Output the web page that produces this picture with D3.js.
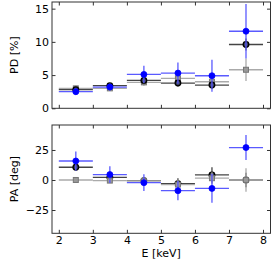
<!DOCTYPE html>
<html>
<head>
<meta charset="utf-8">
<script src="https://cdn.jsdelivr.net/npm/d3@7"></script>
<style>
  body { margin: 0; background: #fff; }
  svg text { font-family: "DejaVu Sans", sans-serif; font-size: 11px; fill: #000; }
</style>
</head>
<body>
<svg></svg>
<script>
// energy bins (keV), centre and half width
let energy = [2.5, 3.5, 4.5, 5.5, 6.5, 7.5];
let halfBin = 0.5;

// polarisation degree [%]
let pdBlue = [2.5, 3.2, 5.1, 5.3, 4.9, 11.6];
let pdBlueErr = [0.5, 0.5, 1.3, 1.6, 2.4, 4.1];
let pdBlack = [2.8, 3.4, 4.2, 3.8, 3.5, 9.6];
let pdBlackErr = [0.3, 0.3, 0.4, 0.5, 0.6, 0.9];
let pdGray = [3.0, 3.0, 3.9, 4.5, 4.0, 5.8];
let pdGrayErr = [0.4, 0.4, 0.5, 0.7, 0.8, 1.7];

// polarisation angle [deg]
let paBlue = [15.8, 4.5, -2.2, -8.9, -7, 27];
let paBlueErr = [8, 7, 7, 8, 12, 10.4];
let paBlack = [10.6, 2.2, -0.5, -3.0, 4.2, 0];
let paBlackErr = [3, 3, 3, 4.5, 6.4, 6];
let paGray = [0, -0.5, -0.8, -3.8, 1.5, 0];
let paGrayErr = [2, 2, 3, 4, 5, 9.7];

let xTicks = [2, 3, 4, 5, 6, 7, 8];
let pdTicks = [0, 5, 10, 15];
let paTicks = [-25, 0, 25];

let width = 280;
let height = 261;
let left = 52, right = 270.5;

let svg = d3.select('svg').attr('width', width).attr('height', height);

let xScale = d3.scaleLinear().domain([1.8, 8.22]).range([left, right]);

// draw one panel: frame, ticks, label and the three series
let drawPanel = (top, bottom, yDomain, yTicks, label, series, showX) => {
  let yScale = d3.scaleLinear().domain(yDomain).range([bottom, top]);
  let g = svg.append('g');

  let axes = [
    [d3.axisLeft(yScale).tickValues(yTicks), 'translate(' + left + ',0)', true],
    [d3.axisRight(yScale).tickValues(yTicks), 'translate(' + right + ',0)', false],
    [d3.axisTop(xScale).tickValues(xTicks), 'translate(0,' + top + ')', false],
    [d3.axisBottom(xScale).tickValues(xTicks), 'translate(0,' + bottom + ')', showX]
  ];
  axes.forEach(([ax, tr, labels]) => {
    ax.tickSize(-3.5).tickPadding(3).tickFormat(labels ? d3.format('d') : '');
    let a = g.append('g').attr('transform', tr).call(ax);
    a.select('.domain').remove();
    a.selectAll('line').attr('stroke', '#333');
    a.selectAll('text').attr('font-size', 11).attr('font-family', 'DejaVu Sans').attr('fill', '#000');
  });

  g.append('rect')
    .attr('x', left).attr('y', top)
    .attr('width', right - left).attr('height', bottom - top)
    .attr('fill', 'none').attr('stroke', '#333').attr('stroke-width', 1);

  g.append('text')
    .attr('transform', 'translate(18,' + ((top + bottom) / 2) + ') rotate(-90)')
    .attr('text-anchor', 'middle')
    .text(label);

  let plot = g.append('g');
  series.forEach((s) => {
    let pts = energy.map((e, i) => ({ e: e, v: s.values[i], err: s.errs[i] }));
    let sg = plot.append('g');
    sg.selectAll('.h').data(pts).enter().append('line')
      .attr('x1', (d) => xScale(d.e - halfBin)).attr('x2', (d) => xScale(d.e + halfBin))
      .attr('y1', (d) => yScale(d.v)).attr('y2', (d) => yScale(d.v))
      .attr('stroke', s.line).attr('stroke-width', 1.3);
    sg.selectAll('.v').data(pts).enter().append('line')
      .attr('x1', (d) => xScale(d.e)).attr('x2', (d) => xScale(d.e))
      .attr('y1', (d) => yScale(d.v - d.err)).attr('y2', (d) => yScale(d.v + d.err))
      .attr('stroke', s.line).attr('stroke-width', 1.3);
    if (s.shape === 'square') {
      sg.selectAll('rect').data(pts).enter().append('rect')
        .attr('x', (d) => xScale(d.e) - 2.5).attr('y', (d) => yScale(d.v) - 2.5)
        .attr('width', 5).attr('height', 5)
        .attr('fill', s.fill).attr('stroke', s.edge).attr('stroke-width', 1);
    } else {
      sg.selectAll('circle').data(pts).enter().append('circle')
        .attr('cx', (d) => xScale(d.e)).attr('cy', (d) => yScale(d.v))
        .attr('r', s.r)
        .attr('fill', s.fill).attr('stroke', s.edge).attr('stroke-width', s.sw);
    }
  });
};

let seriesStyle = (vals, errs, kind) => {
  if (kind === 'gray') return { values: vals, errs: errs, line: '#aaaaaa', fill: '#999999', edge: '#777777', shape: 'square' };
  if (kind === 'black') return { values: vals, errs: errs, line: '#444444', fill: '#3c4266', edge: '#000000', r: 2.8, sw: 1.3, shape: 'circle' };
  return { values: vals, errs: errs, line: '#5a5aff', fill: '#0000ff', edge: '#0000ff', r: 3, sw: 0.8, shape: 'circle' };
};

drawPanel(2, 108.3, [0, 16], pdTicks, 'PD [%]', [
  seriesStyle(pdGray, pdGrayErr, 'gray'),
  seriesStyle(pdBlack, pdBlackErr, 'black'),
  seriesStyle(pdBlue, pdBlueErr, 'blue')
], false);

drawPanel(125, 233.3, [-44.4, 45.8], paTicks, 'PA [deg]', [
  seriesStyle(paBlack, paBlackErr, 'black'),
  seriesStyle(paGray, paGrayErr, 'gray'),
  seriesStyle(paBlue, paBlueErr, 'blue')
], true);

svg.append('text')
  .attr('x', (left + right) / 2).attr('y', 257)
  .attr('text-anchor', 'middle')
  .text('E [keV]');
</script>
</body>
</html>
